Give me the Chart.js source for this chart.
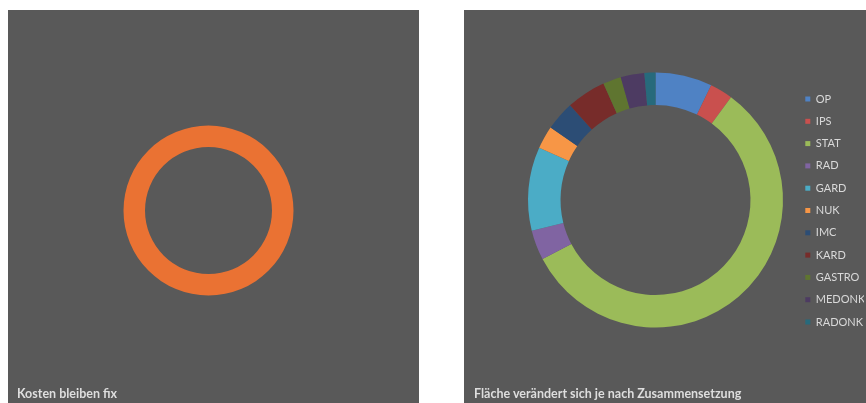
<!DOCTYPE html>
<html lang="de">
<head>
    <meta charset="UTF-8">
    <title>Kosten / Fläche</title>
    <script src="https://cdn.jsdelivr.net/npm/chart.js"></script>
    <style>
        body {
            margin: 0;
            padding: 0;
            background-color: #ffffff;
            font-family: Lato, "Open Sans", sans-serif;
        }
        .panel {
            position: absolute;
            background-color: #595959;
            overflow: hidden;
        }
        .panel canvas {
            position: absolute;
            left: 0;
            top: 0;
        }
        .caption {
            position: absolute;
            font-size: 12.5px;
            font-weight: bold;
            color: #dedede;
            white-space: nowrap;
        }
    </style>
</head>
<body>
    <!-- linkes Feld: fixe Kosten -->
    <div class="panel" style="left: 8px; top: 10px; width: 411px; height: 393px;">
        <canvas id="fixChart" width="411" height="393"></canvas>
        <div class="caption" style="left: 9px; top: 376px;">Kosten bleiben fix</div>
    </div>

    <!-- rechtes Feld: Flächen nach Bereich -->
    <div class="panel" style="left: 464px; top: 10px; width: 402px; height: 393px;">
        <canvas id="areaChart" width="402" height="393"></canvas>
        <div class="caption" style="left: 10px; top: 376px;">Fläche verändert sich je nach Zusammensetzung</div>
    </div>

    <script>
        // Daten
        const fixLabels = ['Kosten'];
        const fixValues = [100];
        const fixColors = ['#ea7233'];

        const areaLabels = ['OP', 'IPS', 'STAT', 'RAD', 'GARD', 'NUK', 'IMC', 'KARD', 'GASTRO', 'MEDONK', 'RADONK'];
        const areaValues = [7.2, 2.9, 57.3, 3.8, 10.6, 2.9, 3.7, 5.0, 2.3, 3.0, 1.4];
        const areaColors = ['#4f82c4', '#c9504e', '#9bbb59', '#8064a2', '#4bacc6', '#f79646',
                            '#2c4d75', '#772c2a', '#5f7530', '#4d3b62', '#276a7c'];

        Chart.defaults.font.family = 'Lato, "Open Sans", sans-serif';

        // linker Ring
        new Chart(document.getElementById('fixChart'), {
            type: 'doughnut',
            data: {
                labels: fixLabels,
                datasets: [{
                    data: fixValues,
                    backgroundColor: fixColors,
                    borderWidth: 0,
                    hoverOffset: 0
                }]
            },
            options: {
                responsive: false,
                animation: false,
                cutout: '74.7%',
                radius: 85,
                layout: {
                    padding: { left: 115, right: 125, top: 115, bottom: 107 }
                },
                plugins: {
                    legend: { display: false },
                    tooltip: { enabled: false }
                }
            }
        });

        // rechter Ring mit Legende
        new Chart(document.getElementById('areaChart'), {
            type: 'doughnut',
            data: {
                labels: areaLabels,
                datasets: [{
                    data: areaValues,
                    backgroundColor: areaColors,
                    borderWidth: 0,
                    hoverOffset: 0
                }]
            },
            options: {
                responsive: false,
                animation: false,
                cutout: '74.5%',
                radius: 127.5,
                layout: {
                    padding: { left: 53, right: 2, top: 40, bottom: 53 }
                },
                plugins: {
                    legend: {
                        position: 'right',
                        align: 'start',
                        maxWidth: 70,
                        // leerer Titel schiebt die Einträge etwas nach unten
                        title: {
                            display: true,
                            text: '',
                            font: { size: 10 },
                            padding: { top: 20.2, bottom: 0 }
                        },
                        labels: {
                            boxWidth: 5,
                            boxHeight: 5,
                            padding: 11.3,
                            color: '#d9d9d9',
                            font: { size: 11 }
                        }
                    },
                    tooltip: { enabled: false }
                }
            }
        });
    </script>
</body>
</html>
